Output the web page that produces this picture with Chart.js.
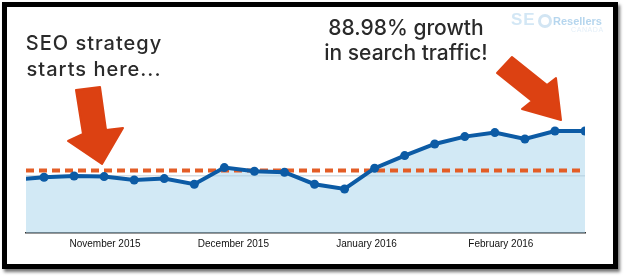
<!DOCTYPE html>
<html>
<head>
<meta charset="utf-8">
<script src="https://cdn.jsdelivr.net/npm/chart.js@4"></script>
<style>
  html, body { margin: 0; padding: 0; background: #fff; }
  body { width: 624px; height: 278px; position: relative; overflow: hidden; }
  #frame { position: absolute; left: 2px; top: 2px; width: 616px; height: 267px; box-sizing: border-box;
           border: 5px solid #000; background: #fff; box-shadow: 2px 3px 3px rgba(0,0,0,0.55); }
  #c { position: absolute; left: 0; top: 0; }
  .note { position: absolute; font-family: Inter, "Noto Sans", sans-serif; color: #2a2a2a; text-align: center; white-space: nowrap; }
  #n1 { left: 14px; width: 160px; top: 30px; font-size: 20px; line-height: 26px; font-weight: 500; letter-spacing: 1px; }
  #n2 { left: 306px; width: 200px; top: 15px; font-size: 21px; line-height: 25px; font-weight: 500; }
  .lg { position: absolute; font-family: "Liberation Sans", Arial, sans-serif; font-weight: bold; white-space: nowrap; }
  #se { left: 511px; top: 11px; font-size: 17px; line-height: 17px; color: #d3e7f5; letter-spacing: 1px; }
  #ring { position: absolute; left: 538px; top: 14px; width: 8px; height: 8px; border: 3px solid #d2e5f3; border-radius: 50%; }
  #rs { left: 553px; top: 16px; font-size: 11px; line-height: 11px; color: #b6d6ee; }
  #ca { left: 571px; top: 26px; font-size: 7px; line-height: 7px; font-weight: normal; color: #e4eff8; letter-spacing: 0.6px; }
</style>
</head>
<body>
<div id="frame"></div>
<canvas id="c" width="624" height="278"></canvas>
<div class="note" id="n1">SEO strategy<br>starts here...</div>
<div class="note" id="n2">88.98% growth<br>in search traffic!</div>
<span class="lg" id="se">SE</span><span id="ring"></span><span class="lg" id="rs">Resellers</span><span class="lg" id="ca">CANADA</span>
<script>
// weekly sessions (index 0 lies just left of the visible area)
const weekIndex = [0,1,2,3,4,5,6,7,8,9,10,11,12,13,14,15,16,17,18,19];
const sessions  = [26.7,27.9,28.5,28.2,26.5,27.2,24.4,32.7,30.9,30.4,24.4,22.0,32.4,38.7,44.5,48.2,50.2,47.0,51.0,51.0];
const baseline  = 31.25;
const monthTickPos = [3.03, 7.3, 11.73, 16.2];
const monthLabels  = ["November 2015", "December 2015", "January 2016", "February 2016"];
const gridValues   = [28.75];

const xMin = 0.4, xMax = 19;

const arrowsPlugin = {
  id: 'arrows',
  afterDraw(chart) {
    const ctx = chart.ctx;
    const polys = [
      [[76,90],[100,87],[106,130],[123,128],[102,164],[68,141],[83,134]],
      [[512,57],[547,85],[556,78],[561,120],[522,109],[532,101],[497,73]]
    ];
    ctx.save();
    ctx.fillStyle = '#dc4112';
    ctx.strokeStyle = '#dc4112';
    ctx.lineWidth = 2;
    ctx.lineJoin = 'round';
    for (const p of polys) {
      ctx.beginPath();
      ctx.moveTo(p[0][0], p[0][1]);
      for (let i = 1; i < p.length; i++) ctx.lineTo(p[i][0], p[i][1]);
      ctx.closePath();
      ctx.fill();
      ctx.stroke();
    }
    ctx.restore();
  }
};

new Chart(document.getElementById('c'), {
  type: 'line',
  data: {
    datasets: [
      {
        data: weekIndex.map((x, i) => ({ x, y: sessions[i] })),
        borderColor: '#0c5ba5',
        borderWidth: 4,
        backgroundColor: 'rgba(165,211,235,0.5)',
        fill: 'origin',
        tension: 0,
        pointRadius: weekIndex.map(i => i === 0 ? 0 : 4.5),
        pointBackgroundColor: '#0c5ba5',
        pointBorderWidth: 0,
        pointHoverRadius: 0
      },
      {
        data: [{ x: xMin, y: baseline }, { x: xMax, y: baseline }],
        borderColor: '#e35d26',
        borderWidth: 4,
        borderDash: [8, 5],
        borderCapStyle: 'butt',
        pointRadius: 0,
        fill: false
      }
    ]
  },
  options: {
    responsive: false,
    animation: false,
    events: [],
    layout: { padding: { left: 26, right: 39, top: 33, bottom: 0 } },
    plugins: {
      legend: { display: false },
      tooltip: { enabled: false },
      filler: { drawTime: 'beforeDatasetsDraw' }
    },
    scales: {
      x: {
        type: 'linear',
        min: xMin,
        max: xMax,
        afterBuildTicks(scale) { scale.ticks = monthTickPos.map(v => ({ value: v })); },
        afterFit(scale) { scale.height = 45; },
        grid: { display: false, drawTicks: false },
        border: { display: true, color: '#333', width: 1.5 },
        ticks: {
          autoSkip: false,
          maxRotation: 0,
          padding: 5,
          color: '#111',
          font: { family: '"Liberation Sans", Arial, sans-serif', size: 10 },
          callback(v) { const k = monthTickPos.indexOf(v); return k >= 0 ? monthLabels[k] : ''; }
        }
      },
      y: {
        min: 0,
        max: 100,
        afterBuildTicks(scale) { scale.ticks = gridValues.map(v => ({ value: v })); },
        afterFit(scale) { scale.width = 0; },
        ticks: { display: false },
        border: { display: false },
        grid: { color: '#d6dde2', lineWidth: 1.5, drawTicks: false }
      }
    }
  },
  plugins: [arrowsPlugin]
});
</script>
</body>
</html>
